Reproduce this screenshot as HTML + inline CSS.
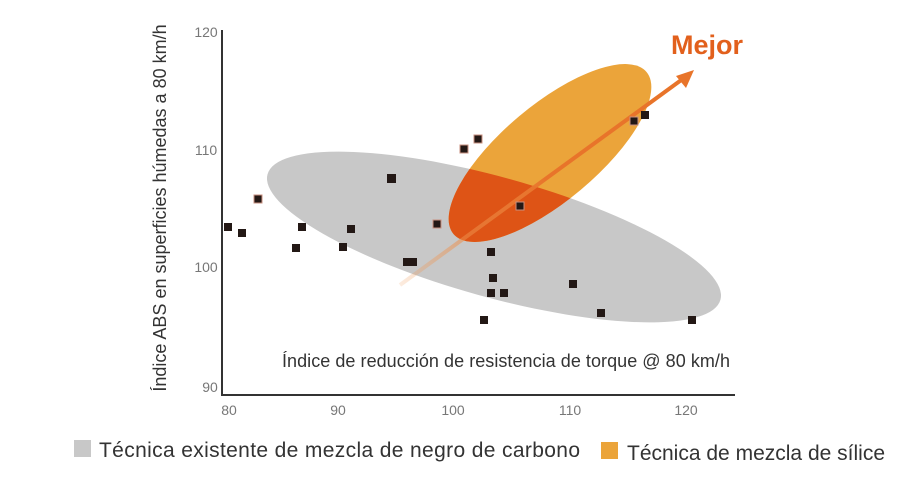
<!DOCTYPE html>
<html><head><meta charset="utf-8"><style>
html,body{margin:0;padding:0;background:#fff;}
svg{display:block;font-family:"Liberation Sans",sans-serif;}
</style></head><body>
<svg width="920" height="480" viewBox="0 0 920 480" xmlns="http://www.w3.org/2000/svg">
<defs>
<clipPath id="cg"><ellipse cx="494" cy="237" rx="235" ry="60" transform="rotate(15.5 494 237)"/></clipPath>
<linearGradient id="ag" x1="400" y1="285" x2="692" y2="72" gradientUnits="userSpaceOnUse">
<stop offset="0" stop-color="#f0a060" stop-opacity="0.2"/><stop offset="0.5" stop-color="#e8742a"/><stop offset="1" stop-color="#e8742a"/></linearGradient>
</defs>
<ellipse cx="494" cy="237" rx="235" ry="60" transform="rotate(15.5 494 237)" fill="#c8c8c8"/>
<ellipse cx="550" cy="153" rx="126" ry="48" transform="rotate(-40 550 153)" fill="#eba43a"/>
<g clip-path="url(#cg)"><ellipse cx="550" cy="153" rx="126" ry="48" transform="rotate(-40 550 153)" fill="#de5416"/></g>
<line x1="400" y1="285" x2="684" y2="78" stroke="url(#ag)" stroke-width="4"/>
<polygon points="694,70 676,76 686,88" fill="#e8742a"/>
<text x="671" y="54" font-size="27" font-weight="bold" fill="#e2601c">Mejor</text>
<g stroke="#333" stroke-width="2" fill="none"><path d="M222 30 V395 H735"/></g>
<g font-size="14" fill="#777" text-anchor="middle">
<text x="206" y="37">120</text><text x="206" y="155">110</text><text x="206" y="272">100</text><text x="210" y="392">90</text>
<text x="229" y="415">80</text><text x="338" y="415">90</text><text x="453" y="415">100</text><text x="570" y="415">110</text><text x="686" y="415">120</text>
</g>
<text transform="translate(166 208) rotate(-90)" font-size="18" fill="#333" text-anchor="middle">Índice ABS en superficies húmedas a 80 km/h</text>
<text x="282" y="367" font-size="18" fill="#333" textLength="448">Índice de reducción de resistencia de torque @ 80 km/h</text>
<g fill="#231815">
<rect x="224" y="223" width="8" height="8"/><rect x="238" y="229" width="8" height="8"/>
<rect x="292" y="244" width="8" height="8"/><rect x="298" y="223" width="8" height="8"/>
<rect x="339" y="243" width="8" height="8"/><rect x="347" y="225" width="8" height="8"/>
<rect x="387" y="174" width="9" height="9"/><rect x="403" y="258" width="14" height="8"/>
<rect x="487" y="248" width="8" height="8"/><rect x="489" y="274" width="8" height="8"/>
<rect x="487" y="289" width="8" height="8"/><rect x="500" y="289" width="8" height="8"/>
<rect x="480" y="316" width="8" height="8"/><rect x="569" y="280" width="8" height="8"/>
<rect x="597" y="309" width="8" height="8"/><rect x="688" y="316" width="8" height="8"/>
<rect x="641" y="111" width="8" height="8"/>
</g>
<g fill="#231815" stroke="#c89080" stroke-width="1">
<rect x="254" y="195" width="8" height="8"/><rect x="433" y="220" width="8" height="8"/>
<rect x="460" y="145" width="8" height="8"/><rect x="474" y="135" width="8" height="8"/>
<rect x="516" y="202" width="8" height="8"/><rect x="630" y="117" width="8" height="8"/>
</g>
<rect x="74" y="440" width="17" height="17" fill="#c8c8c8"/>
<text x="99" y="457" font-size="21" fill="#333" textLength="481">Técnica existente de mezcla de negro de carbono</text>
<rect x="601" y="442" width="17" height="17" fill="#eba43a"/>
<text x="627" y="460" font-size="21" fill="#333" textLength="258">Técnica de mezcla de sílice</text>
</svg>
</body></html>
